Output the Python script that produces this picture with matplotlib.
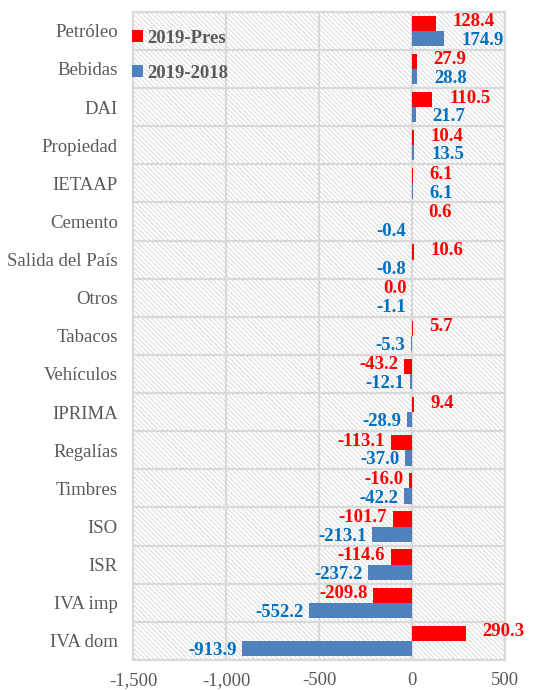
import numpy as np
import matplotlib
matplotlib.use("Agg")
import matplotlib.pyplot as plt
from matplotlib.patches import Rectangle
from matplotlib.ticker import FuncFormatter

# datos
categorias = ["Petróleo", "Bebidas", "DAI", "Propiedad", "IETAAP", "Cemento",
              "Salida del País", "Otros", "Tabacos", "Vehículos", "IPRIMA",
              "Regalías", "Timbres", "ISO", "ISR", "IVA imp", "IVA dom"]
pres_2019 = [128.4, 27.9, 110.5, 10.4, 6.1, 0.6, 10.6, 0.0, 5.7, -43.2, 9.4,
             -113.1, -16.0, -101.7, -114.6, -209.8, 290.3]
dif_2019_2018 = [174.9, 28.8, 21.7, 13.5, 6.1, -0.4, -0.8, -1.1, -5.3, -12.1,
                 -28.9, -37.0, -42.2, -213.1, -237.2, -552.2, -913.9]
series = ["2019-Pres", "2019-2018"]
xticks = [-1500, -1000, -500, 0, 500]

plt.rcParams['font.family'] = ['Liberation Serif', 'DejaVu Serif']
plt.rcParams['hatch.linewidth'] = 0.7
gris = '#595959'
rojo = '#ff0000'
azul_barra = '#4f81bd'
azul_texto = '#0070c0'
fs = 13.5

fig = plt.figure(figsize=(5.37, 6.90), dpi=100)
ax = fig.add_axes([0.248, 0.0435, 0.692, 0.9395])

# fondo rayado
ax.add_patch(Rectangle((0, 0), 1, 1, transform=ax.transAxes, facecolor='white',
                       edgecolor='#dadada', hatch='\\' * 7, lw=0, zorder=0))

y = np.arange(len(categorias))
h = 0.4
ax.barh(y - h / 2, pres_2019, height=h, color=rojo, label=series[0], zorder=2)
ax.barh(y + h / 2, dif_2019_2018, height=h, color=azul_barra, label=series[1], zorder=2)

# etiquetas de datos
for yi, v in zip(y, pres_2019):
    if v > 0:
        ax.annotate(f"{v:.1f}", (v, yi - h / 2), xytext=(12, 1), textcoords='offset points',
                    ha='left', va='center', color=rojo, fontsize=fs, fontweight='bold')
    else:
        ax.annotate(f"{v:.1f}", (v, yi - h / 2), xytext=(-4, 1), textcoords='offset points',
                    ha='right', va='center', color=rojo, fontsize=fs, fontweight='bold')
for yi, v in zip(y, dif_2019_2018):
    if v > 0:
        ax.annotate(f"{v:.1f}", (v, yi + h / 2), xytext=(12, -1.5), textcoords='offset points',
                    ha='left', va='center', color=azul_texto, fontsize=fs, fontweight='bold')
    else:
        ax.annotate(f"{v:.1f}", (v, yi + h / 2), xytext=(-4, -1.5), textcoords='offset points',
                    ha='right', va='center', color=azul_texto, fontsize=fs, fontweight='bold')

ax.set_xlim(-1500, 500)
ax.set_ylim(len(categorias) - 0.5, -0.5)
ax.set_xticks(xticks)
ax.xaxis.set_major_formatter(FuncFormatter(lambda v, p: f"{v:,.0f}"))
ax.set_yticks(y)
ax.set_yticklabels(categorias)
ax.set_yticks(np.arange(len(categorias) + 1) - 0.5, minor=True)
ax.tick_params(axis='both', which='both', length=0, labelsize=fs, colors=gris)
ax.tick_params(axis='x', pad=9)
ax.tick_params(axis='y', pad=11)

ax.set_axisbelow(True)
ax.grid(axis='x', which='major', color='#d9d9d9', lw=1.6)
ax.grid(axis='y', which='minor', color='#d9d9d9', lw=1.6)
for s in ax.spines.values():
    s.set_color('#d9d9d9')
    s.set_linewidth(1.6)

leg = ax.legend(loc='upper left', bbox_to_anchor=(-0.003, 0.972), frameon=False,
                handlelength=0.6, handleheight=0.6, handletextpad=0.2,
                labelspacing=0.95, borderaxespad=0, borderpad=0,
                prop={'size': fs, 'weight': 'bold'})
for t in leg.get_texts():
    t.set_color(gris)

fig.savefig("out.png", dpi=100)
